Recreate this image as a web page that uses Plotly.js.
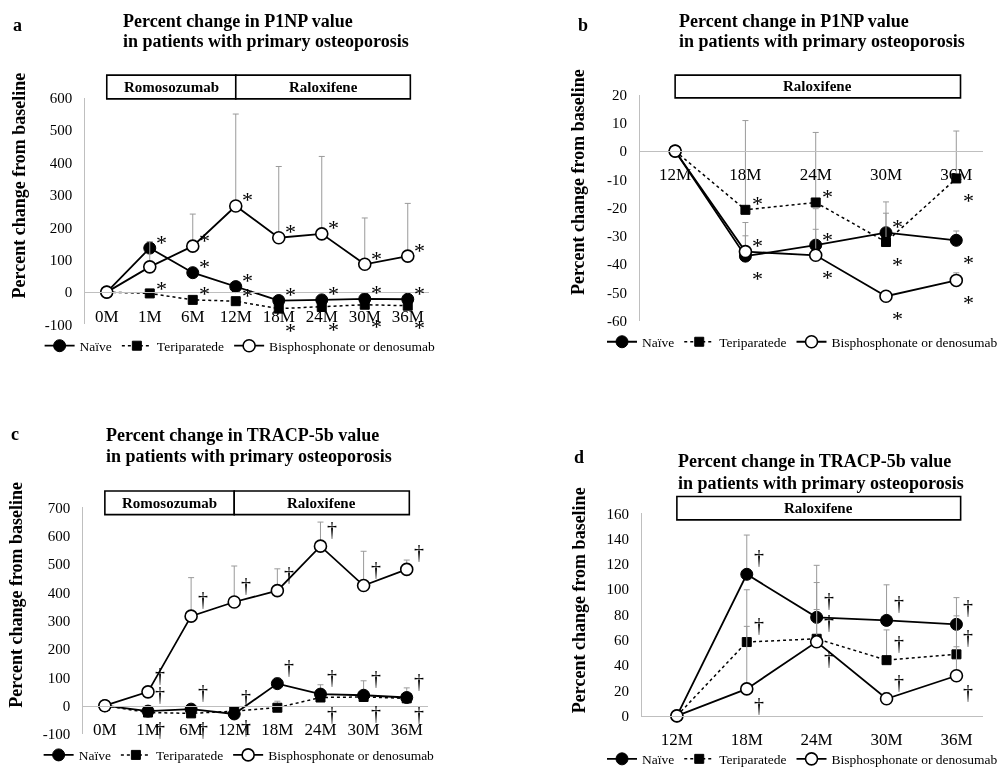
<!DOCTYPE html>
<html><head><meta charset="utf-8">
<script src="https://cdn.plot.ly/plotly-3.0.1.min.js"></script>
<style>html,body{margin:0;padding:0;background:#fff}#chart{width:1003px;height:775px;will-change:transform}</style>
</head><body><div id="chart"></div>
<script>
// ---------------- data ----------------
const monthsLong = ['0M','1M','6M','12M','18M','24M','30M','36M'];
const monthsShort = ['12M','18M','24M','30M','36M'];
const seriesNames = ['Naïve','Teriparatede','Bisphosphonate or denosumab'];

// a: P1NP, 0M-36M
const aNaive   = [0, 136, 60, 17, -26, -24, -21, -22];
const aNaiveSD = [0, 0, 0, 0, 0, 0, 0, 0];
const aTeri    = [0, -4, -24, -28, -51, -46, -39, -42];
const aTeriSD  = [0, 0, 0, 0, 0, 0, 0, 0];
const aBis     = [0, 78, 142, 266, 168, 180, 86, 111];
const aBisSD   = [0, 78, 99, 284, 220, 239, 143, 163];
const aNaiveSig = [0, 1, 1, 1, 1, 1, 1, 1];
const aTeriSig  = [0, 0, 1, 1, -1, -1, -1, -1];
const aBisSig   = [0, -1, 1, 1, 1, 1, 1, 1];

// b: P1NP, 12M-36M
const bNaive   = [0, -37.2, -33.3, -28.9, -31.6];
const bNaiveSD = [0, 11.9, 12.9, 10.9, 3.3];
const bTeri    = [0, -20.8, -18.2, -32.2, -9.7];
const bTeriSD  = [0, 31.6, 24.8, 10.2, 16.8];
const bBis     = [0, -35.6, -36.9, -51.4, -45.8];
const bBisSD   = [0, 5.6, 9.2, 0, 2.7];
const bNaiveSig = [0, -1, 1, 1, -1];
const bTeriSig  = [0, 1, 1, -1, -1];
const bBisSig   = [0, 1, -1, -1, -1];

// c: TRACP-5b, 0M-36M
const cNaive   = [0, -19, -12, -29, 78, 41, 37, 29];
const cNaiveSD = [0, 0, 0, 0, 20, 33, 51, 34];
const cTeri    = [0, -24, -27, -19, -7, 29, 31, 26];
const cTeriSD  = [0, 0, 0, 0, 23, 0, 0, 0];
const cBis     = [0, 49, 316, 366, 406, 563, 424, 481];
const cBisSD   = [0, 0, 136, 127, 77, 85, 121, 33];
const cNaiveSig = [0, 1, 1, 1, 1, 1, 1, 1];
const cTeriSig  = [0, -1, -1, -1, 0, -1, -1, -1];
const cBisSig   = [0, 1, 1, 1, 1, 1, 1, 1];

// d: TRACP-5b, 12M-36M
const dNaive   = [0, 111.8, 77.8, 75.4, 72.3];
const dNaiveSD = [0, 31, 41.1, 28.1, 21.1];
const dTeri    = [0, 58.3, 60.9, 44, 48.6];
const dTeriSD  = [0, 41.3, 44.4, 23.9, 30.4];
const dBis     = [0, 21.3, 58.5, 13.5, 31.7];
const dBisSD   = [0, 49.4, 25.5, 5, 22.9];
const dNaiveSig = [0, 1, 1, 1, 1];
const dTeriSig  = [0, 1, 1, 1, 1];
const dBisSig   = [0, -1, -1, 1, -1];

const titleP1NP = ['Percent change in P1NP value', 'in patients with primary osteoporosis'];
const titleTRACP = ['Percent change in TRACP-5b value', 'in patients with primary osteoporosis'];
const yTitle = 'Percent change from baseline';
const periodsLong = [{name:'Romosozumab', from:'0M', to:'12M'}, {name:'Raloxifene', from:'12M', to:'36M'}];
const periodsShort = [{name:'Raloxifene', from:'12M', to:'36M'}];

// ---------------- layout helpers ----------------
const W = 1003, H = 775;
const fx = p => p / W, fy = p => 1 - p / H;
const FONT = 'Liberation Serif, Times New Roman, serif';
const AXC = '#bfbfbf', ERRC = '#9a9a9a';

const panels = [
  {id:'', letter:'a', cats:monthsLong, title:titleP1NP, periods:periodsLong, mark:'*',
   series:[[aNaive,aNaiveSD,aNaiveSig],[aTeri,aTeriSD,aTeriSig],[aBis,aBisSD,aBisSig]],
   xpx:[87,438], xr:[-0.5,7.5], ypx:[99,328.3], yr:[-100,600], dt:100, zeroAxis:true,
   letterPos:[18,25], titlePos:[123,21.7,41.7], boxPx:[76,100], ytitlePos:[19,188], legendPos:[245,350]},
  {id:'2', letter:'b', cats:monthsShort, title:titleP1NP, periods:periodsShort, mark:'*',
   series:[[bNaive,bNaiveSD,bNaiveSig],[bTeri,bTeriSD,bTeriSig],[bBis,bBisSD,bBisSig]],
   xpx:[653,1003], xr:[-0.5,4.38], ypx:[95.7,324.3], yr:[-60,20], dt:10, zeroAxis:true,
   letterPos:[595,25], titlePos:[690.7,21.7,41.7], boxPx:[76,99], ytitlePos:[590,184], legendPos:[819,346]},
  {id:'3', letter:'c', cats:monthsLong, title:titleTRACP, periods:periodsLong, mark:'†',
   series:[[cNaive,cNaiveSD,cNaiveSig],[cTeri,cTeriSD,cTeriSig],[cBis,cBisSD,cBisSig]],
   xpx:[85,437], xr:[-0.5,7.5], ypx:[513.3,742.7], yr:[-100,700], dt:100, zeroAxis:true,
   letterPos:[15,439], titlePos:[106,440,461], boxPx:[496.7,520.7], ytitlePos:[16,602], legendPos:[244,764]},
  {id:'4', letter:'d', cats:monthsShort, title:titleTRACP, periods:periodsShort, mark:'†',
   series:[[dNaive,dNaiveSD,dNaiveSig],[dTeri,dTeriSD,dTeriSig],[dBis,dBisSD,dBisSig]],
   xpx:[655,1003], xr:[-0.5,4.38], ypx:[519.3,724.3], yr:[0,160], dt:20, zeroAxis:false,
   letterPos:[591,462], titlePos:[690,466,489], boxPx:[502.3,526], ytitlePos:[591,607], legendPos:[819,768]}
];

const styles = [
  {line:{color:'#000', width:1.8, dash:'solid'}, marker:{symbol:'circle', size:12, color:'#000', line:{color:'#000', width:1}}},
  {line:{color:'#000', width:1.5, dash:'dot'}, marker:{symbol:'square', size:9, color:'#000', line:{color:'#000', width:1}}},
  {line:{color:'#000', width:1.8, dash:'solid'}, marker:{symbol:'circle', size:12, color:'#fff', line:{color:'#000', width:1.6}}}
];

const traces = [], annotations = [], shapes = [];
const layout = {
  width: W, height: H, margin:{l:0, r:0, t:0, b:0},
  paper_bgcolor:'#fff', plot_bgcolor:'rgba(0,0,0,0)',
  font:{family:FONT, color:'#000'}, hovermode:false
};

panels.forEach((p, pi) => {
  const xa = 'xaxis' + p.id, ya = 'yaxis' + p.id;
  const xr = 'x' + p.id, yr = 'y' + p.id;
  const legName = 'legend' + p.id;
  const yd = [fy(p.ypx[1]), fy(p.ypx[0])];
  const zeroPos = yd[0] + (yd[1] - yd[0]) * (0 - p.yr[0]) / (p.yr[1] - p.yr[0]);
  const tv = [];
  for (let v = p.yr[0]; v <= p.yr[1] + 1e-9; v += p.dt) tv.push(v);
  layout[xa] = {
    domain:[fx(p.xpx[0]), fx(p.xpx[1])], range:p.xr, type:'category',
    anchor: p.zeroAxis ? 'free' : yr,
    showline:true, linecolor:AXC, linewidth:1, showgrid:false, zeroline:false,
    ticks:'outside', ticklen:8, tickcolor:'rgba(0,0,0,0)',
    tickfont:{family:FONT, size:17, color:'#000'}, fixedrange:true
  };
  if (p.zeroAxis) layout[xa].position = zeroPos;
  layout[ya] = {
    domain:yd, range:p.yr, anchor:xr, tickmode:'array', tickvals:tv, ticktext:tv.map(v => String(v)),
    showline:true, linecolor:AXC, linewidth:1, showgrid:false, zeroline:false,
    ticks:'outside', ticklen:9, tickcolor:'rgba(0,0,0,0)',
    tickfont:{family:FONT, size:15, color:'#000'}, fixedrange:true
  };
  layout[legName] = {
    orientation:'h', x:fx(p.legendPos[0]), y:fy(p.legendPos[1]), xanchor:'center', yanchor:'middle',
    font:{family:FONT, size:13.5, color:'#000'}, bgcolor:'rgba(0,0,0,0)', itemwidth:30,
    traceorder:'normal', tracegroupgap:0
  };

  p.series.forEach((s, si) => {
    const [vals, sd, sig] = s;
    traces.push({
      type:'scatter', mode:'lines+markers', x:p.cats, y:vals, xaxis:xr, yaxis:yr,
      name:seriesNames[si], legend:legName, showlegend:true, cliponaxis:false,
      line:styles[si].line, marker:styles[si].marker,
      error_y:{type:'data', symmetric:false, array:sd, arrayminus:sd.map(() => 0),
               color:ERRC, thickness:1, width:3}
    });
    sig.forEach((g, i) => {
      if (!g) return;
      const isStar = p.mark === '*';
      annotations.push({
        xref:xr, yref:yr, x:i, y:vals[i], text:p.mark, showarrow:false,
        xanchor:'center', yanchor:'middle', xshift:12,
        yshift: g > 0 ? (isStar ? 6 : 17) : (isStar ? -22 : -16),
        font:{family:FONT, size: isStar ? 22 : 20, color:'#000'}
      });
    });
  });

  // treatment period boxes
  const [bt, bb] = p.boxPx;
  p.periods.forEach((per, k) => {
    const i0 = p.cats.indexOf(per.from);
    const i1 = p.cats.indexOf(per.to) + (k === p.periods.length - 1 ? 0.06 : 0);
    shapes.push({type:'rect', xref:xr, yref:'paper', x0:i0, x1:i1, y0:fy(bb), y1:fy(bt),
                 line:{color:'#000', width:1.6}, fillcolor:'#fff', layer:'above'});
    annotations.push({xref:xr, yref:'paper', x:(i0 + i1) / 2, y:fy((bt + bb) / 2),
                      text:'<b>' + per.name + '</b>', showarrow:false, xanchor:'center', yanchor:'middle',
                      font:{family:FONT, size:15, color:'#000'}});
  });

  // panel letter
  annotations.push({xref:'paper', yref:'paper', x:fx(p.letterPos[0]), y:fy(p.letterPos[1]),
                    text:'<b>' + p.letter + '</b>', showarrow:false, xanchor:'center', yanchor:'middle',
                    font:{family:FONT, size:18, color:'#000'}});
  // title lines
  p.title.forEach((t, k) => {
    annotations.push({xref:'paper', yref:'paper', x:fx(p.titlePos[0]), y:fy(p.titlePos[1 + k]),
                      text:'<b>' + t + '</b>', showarrow:false, xanchor:'left', yanchor:'middle',
                      font:{family:FONT, size:18, color:'#000'}});
  });
  // y axis title
  annotations.push({xref:'paper', yref:'paper', x:fx(p.ytitlePos[0]), y:fy(p.ytitlePos[1]),
                    text:'<b>' + yTitle + '</b>', showarrow:false, textangle:-90,
                    xanchor:'center', yanchor:'middle', font:{family:FONT, size:18, color:'#000'}});
});

layout.annotations = annotations;
layout.shapes = shapes;

Plotly.newPlot('chart', traces, layout, {displayModeBar:false, staticPlot:true});
</script>
</body></html>
